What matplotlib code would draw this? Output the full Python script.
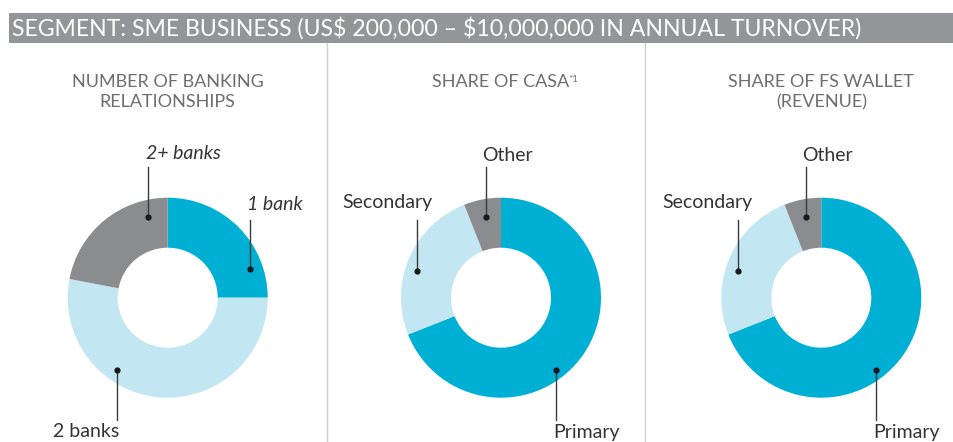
import numpy as np
import matplotlib
matplotlib.use("Agg")
import matplotlib.pyplot as plt
from matplotlib.lines import Line2D
from matplotlib.patches import Rectangle

plt.rcParams['font.family'] = ['Lato', 'DejaVu Sans']

# data
header = "SEGMENT: SME BUSINESS (US\\$ 200,000 \u2013 \\$10,000,000 IN ANNUAL TURNOVER)"
titles = ["NUMBER OF BANKING\nRELATIONSHIPS", "SHARE OF CASA", "SHARE OF FS WALLET\n(REVENUE)"]
title_notes = ["", "*1", ""]

banks_labels = ["1 bank", "2 banks", "2+ banks"]
banks_values = [25, 53, 22]
banks_italic = [True, False, True]
casa_labels = ["Primary", "Secondary", "Other"]
casa_values = [69, 25, 6]
wallet_labels = ["Primary", "Secondary", "Other"]
wallet_values = [69, 25, 6]

TEAL = "#00b0d4"
LIGHT = "#c3e6f3"
GREY = "#8b8c8f"
colors = [TEAL, LIGHT, GREY]

# label layout: dot angle, dot radius, line end y, text y, text x, ha, va
banks_lay = [(19, 0.87, 0.78, 0.88, 0.79, 'left', 'baseline'),
             (234.7, 0.88, -1.22, -1.25, -0.48, 'right', 'top'),
             (104, 0.83, 1.31, 1.39, -0.22, 'left', 'baseline')]
share_lay = [(307.3, 0.91, -1.22, -1.26, 0.52, 'left', 'top'),
             (162, 0.88, 0.78, 0.90, -0.69, 'right', 'baseline'),
             (100.8, 0.82, 1.31, 1.37, -0.19, 'left', 'baseline')]

W, H = 954, 442
fig = plt.figure(figsize=(W / 100, H / 100), dpi=100)

# header bar
fig.add_artist(Rectangle((9 / W, 1 - 43 / H), 1, 30 / H, transform=fig.transFigure,
                         facecolor="#939598", edgecolor="none"))
fig.text(12 / W, 1 - 28.5 / H, header, color="white", fontsize=16.6,
         va='center', ha='left')

# dividers
for xd in [327, 645]:
    fig.add_artist(Line2D([xd / W, xd / W], [0, 1 - 43 / H], transform=fig.transFigure,
                          color="#cfcfcf", lw=1))

centers = [167.7, 501, 821.3]
cy = 297.7
panels = [(banks_labels, banks_values, banks_lay, banks_italic),
          (casa_labels, casa_values, share_lay, [False] * 3),
          (wallet_labels, wallet_values, share_lay, [False] * 3)]

fig.canvas.draw()
for i, (labels, values, lay, italic) in enumerate(panels):
    cx = centers[i]
    ax = fig.add_axes([(cx - 160) / W, 0, 320 / W, 312 / H])
    ax.pie(values, colors=colors, startangle=90, counterclock=False,
           wedgeprops=dict(width=0.5, edgecolor='none'))
    ax.set_aspect('auto')
    ax.set_xlim(-1.6, 1.6)
    ax.set_ylim(-(H - cy) / 100, (312 - (H - cy)) / 100)
    ax.axis('off')

    for lab, it, (ang, r, yend, ty, tx, ha, va) in zip(labels, italic, lay):
        dx = r * np.cos(np.radians(ang))
        dy = r * np.sin(np.radians(ang))
        ax.plot([dx, dx], [dy, yend], color="#3a3a3a", lw=1, clip_on=False)
        ax.plot(dx, dy, 'o', color="#1a1a1a", ms=3.5, clip_on=False)
        ax.text(tx, ty, lab, ha=ha, va=va, fontsize=14, color="#333333",
                style='italic' if it else 'normal', clip_on=False)

    t = fig.text(cx / W, 1 - 74 / H, titles[i], ha='center', va='top', fontsize=13,
                 color="#6d6e71", linespacing=1.3)
    if title_notes[i]:
        bb = t.get_window_extent(renderer=fig.canvas.get_renderer())
        fig.text((bb.x1 - 1) / W, (bb.y1 - 1) / H, title_notes[i], fontsize=7,
                 color="#6d6e71", va='top', ha='left')

fig.savefig("out.png", dpi=100)
